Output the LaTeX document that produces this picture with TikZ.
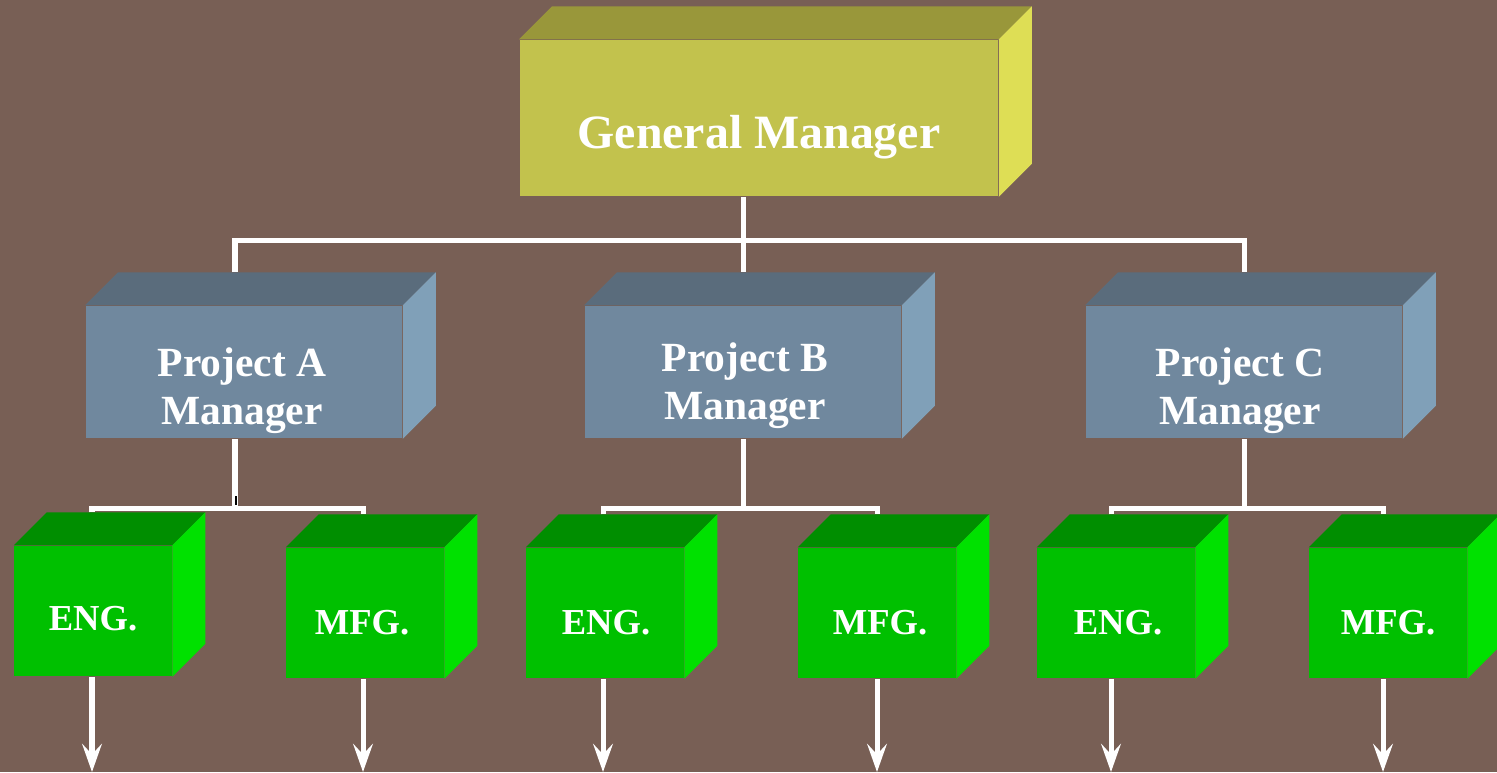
\documentclass[tikz,border=0pt]{standalone}
\usepackage{fontspec}
\setmainfont{Liberation Serif}
\usetikzlibrary{arrows.meta}

\definecolor{slidebg}{RGB}{120,95,85}
\definecolor{gmfront}{RGB}{194,194,77}
\definecolor{gmtop}{RGB}{153,151,58}
\definecolor{gmside}{RGB}{222,222,85}
\definecolor{pmfront}{RGB}{112,136,158}
\definecolor{pmtop}{RGB}{90,108,124}
\definecolor{pmside}{RGB}{128,160,184}
\definecolor{deptfront}{RGB}{0,192,0}
\definecolor{depttop}{RGB}{0,142,0}
\definecolor{deptside}{RGB}{0,225,0}

\tikzset {
  wire/.style = {white, line width=0.05cm},
  flow/.style = {wire, -{Stealth[length=8pt, width=5.6pt, inset=3pt]}},
  face/.style = {rectangle, inner sep=0pt, draw=none},
  gm front/.style = {face, fill=gmfront, minimum width=4.78cm, minimum height=1.56cm},
  pm front/.style = {face, fill=pmfront, minimum width=3.16cm, minimum height=1.32cm},
  dept front/.style = {face, fill=deptfront, minimum width=1.57cm, minimum height=1.30cm},
  box text/.style = {text=white, align=center, inner sep=0pt},
  gm text/.style = {box text, anchor=base, font=\fontsize{13.6}{16}\selectfont\bfseries},
  pm text/.style = {box text, font=\fontsize{11.8}{13.7}\selectfont\bfseries},
  dept text/.style = {box text, anchor=base, font=\fontsize{10.4}{12}\selectfont\bfseries}
}

% top and right faces of a box, plus a coordinate on its upper edge
\newcommand{\cubesides}[2]{%
  \fill[#2top] (#1.north west) -- ++(33,-33) -- ([shift={(33,-33)}]#1.north east) -- (#1.north east) -- cycle;
  \fill[#2side] (#1.north east) -- ++(33,-33) -- ([shift={(33,-33)}]#1.south east) -- (#1.south east) -- cycle;
  \coordinate (#1-top) at ([yshift=0.33cm]#1.north);
}

\begin{document}
\begin{tikzpicture}[x=0.01cm, y=-0.01cm]

\useasboundingbox (0,0) rectangle (1497,772);
\fill[slidebg] (0,0) rectangle (1497,772);

% --- General manager ---
\node[gm front] (gm) at (759,118) {};
\cubesides{gm}{gm}
\node[gm text] (gm-label) at (759,148) {General Manager};

% --- Project managers ---
\node[pm front] (pa) at (244,372) {};
\node[pm front] (pb) at (743,372) {};
\node[pm front] (pc) at (1244,372) {};
\cubesides{pa}{pm}
\cubesides{pb}{pm}
\cubesides{pc}{pm}
\node[pm text] (pa-label) at (242,391) {Project A\\Manager};
\node[pm text] (pb-label) at (745,386) {Project B\\Manager};
\node[pm text] (pc-label) at (1240,391) {Project C\\Manager};

% --- Functional departments ---
\node[dept front] (ea) at (93,611) {};
\node[dept front] (ma) at (365,613) {};
\node[dept front] (eb) at (605,613) {};
\node[dept front] (mb) at (877,613) {};
\node[dept front] (ec) at (1116,613) {};
\node[dept front] (mc) at (1388,613) {};
\foreach \n in {ea,ma,eb,mb,ec,mc}
  \cubesides{\n}{dept};
\node[dept text] (ea-label) at (93,630) {ENG.};
\node[dept text] (ma-label) at (362,634) {MFG.};
\node[dept text] (eb-label) at (606,634) {ENG.};
\node[dept text] (mb-label) at (880,634) {MFG.};
\node[dept text] (ec-label) at (1118,634) {ENG.};
\node[dept text] (mc-label) at (1388,634) {MFG.};

% --- Lines from the general manager ---
\draw[wire] (gm.south -| pb) -- (pb-top);
\path (gm.south -| pb) ++(0,44) coordinate (gm-bus);
\draw[wire] ([xshift=-0.09cm]pa-top) |- (gm-bus) -| (pc-top);

% --- Lines from the project managers ---
\draw[wire] ([xshift=-0.09cm]pa.south) -- ++(0,70) coordinate (pa-bus);
\draw[wire] ([xshift=-0.01cm]ea-top) |- (pa-bus) -| ([xshift=-0.02cm]ma-top);
\draw[black, line width=0.6pt] (236,496) -- (236,505);

\draw[wire] (pb.south) -- ++(0,70) coordinate (pb-bus);
\draw[wire] ([xshift=-0.02cm]eb-top) |- (pb-bus) -| (mb-top);

\draw[wire] (pc.south) -- ++(0,70) coordinate (pc-bus);
\draw[wire] ([xshift=-0.05cm]ec-top) |- (pc-bus) -| ([xshift=-0.05cm]mc-top);

% --- Outgoing arrows ---
\coordinate (floor) at (0,772);
\foreach \n/\dx in {ea/-0.01,ma/-0.02,eb/-0.02,mb/0,ec/-0.05,mc/-0.05}
  \draw[flow] ([xshift=\dx cm]\n.south) -- ([xshift=\dx cm]\n.south |- floor);

\end{tikzpicture}
\end{document}
